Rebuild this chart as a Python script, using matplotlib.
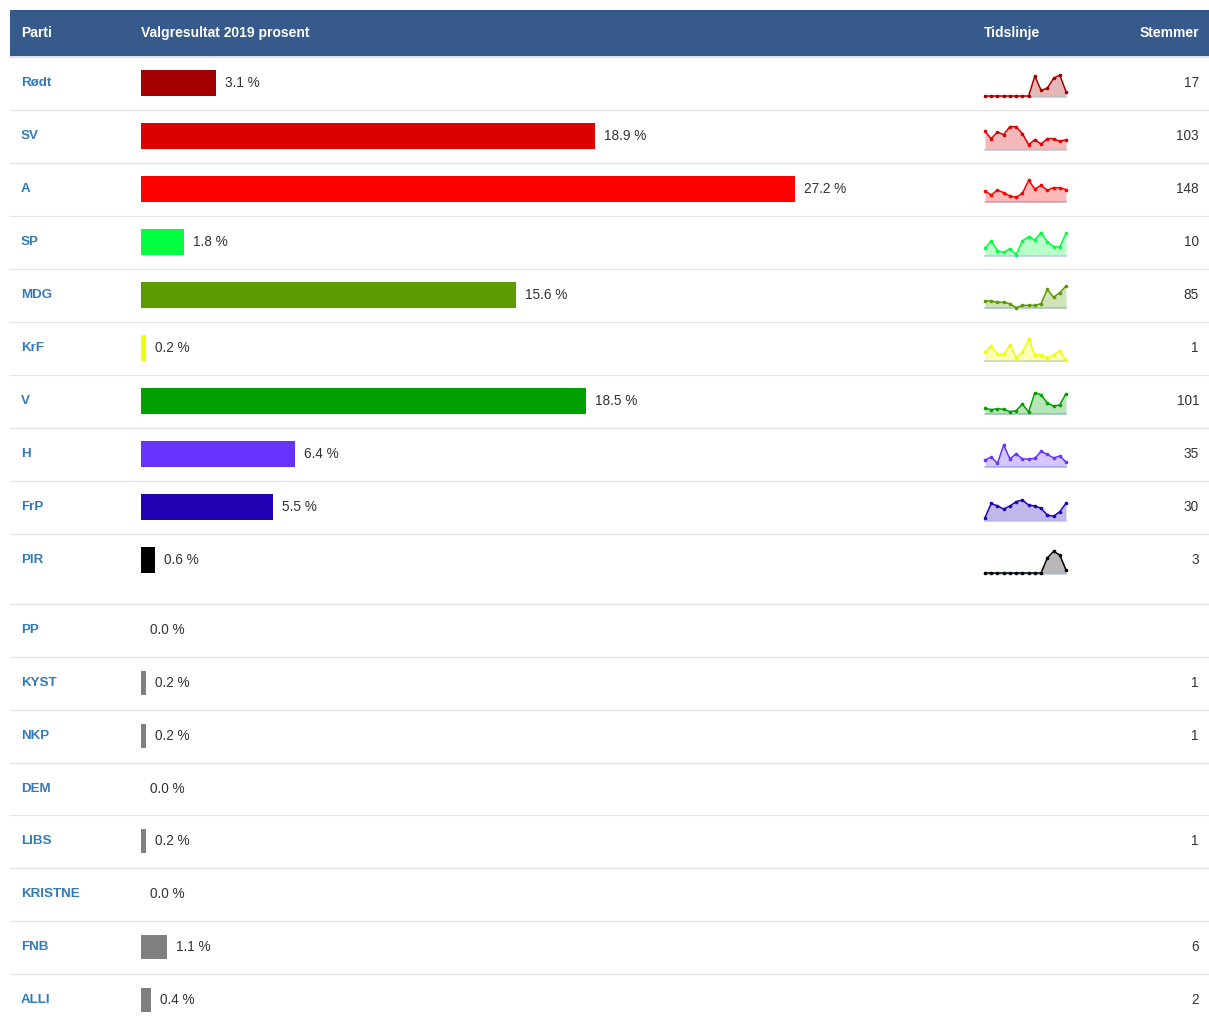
import matplotlib.pyplot as plt
import numpy as np

plt.rcParams['font.family'] = ['Liberation Sans', 'DejaVu Sans']

# table data
parties = ['Rødt', 'SV', 'A', 'SP', 'MDG', 'KrF', 'V', 'H', 'FrP', 'PIR',
           'PP', 'KYST', 'NKP', 'DEM', 'LIBS', 'KRISTNE', 'FNB', 'ALLI']
percent = [3.1, 18.9, 27.2, 1.8, 15.6, 0.2, 18.5, 6.4, 5.5, 0.6,
           0.0, 0.2, 0.2, 0.0, 0.2, 0.0, 1.1, 0.4]
votes = [17, 103, 148, 10, 85, 1, 101, 35, 30, 3,
         None, 1, 1, None, 1, None, 6, 2]
colors = ['#a50000', '#dd0000', '#ff0000', '#00ff40', '#5b9a00', '#eeff00',
          '#00a000', '#6633ff', '#2200b4', '#000000'] + ['#808080'] * 8

# timeline (sparkline) values
spark_rodt = [0, 0, 0, 0, 0, 0, 0, 0, 60, 17, 23, 53, 63, 13]
spark_sv = [53, 31, 51, 43, 67, 67, 46, 13, 28, 15, 31, 31, 23, 28]
spark_a = [33, 21, 36, 28, 18, 14, 26, 65, 39, 50, 35, 43, 43, 37]
spark_sp = [20, 42, 13, 8, 19, 1, 42, 55, 45, 67, 40, 25, 24, 65]
spark_mdg = [21, 21, 17, 17, 13, 1, 8, 8, 8, 13, 56, 32, 46, 66]
spark_krf = [28, 45, 20, 20, 48, 10, 26, 66, 18, 18, 10, 18, 31, 2]
spark_v = [17, 13, 16, 14, 7, 10, 30, 6, 64, 58, 33, 24, 27, 61]
spark_h = [21, 30, 11, 66, 24, 40, 24, 24, 26, 47, 38, 27, 33, 15]
spark_frp = [7, 50, 42, 33, 42, 55, 60, 45, 42, 35, 15, 11, 25, 50]
spark_pir = [0, 0, 0, 0, 0, 0, 0, 0, 0, 0, 45, 65, 54, 9]
sparks = [spark_rodt, spark_sv, spark_a, spark_sp, spark_mdg, spark_krf,
          spark_v, spark_h, spark_frp, spark_pir]

W, H = 1209, 1021
fig = plt.figure(figsize=(W / 100, H / 100), dpi=100)
ax = fig.add_axes([0, 0, 1, 1])
ax.set_xlim(0, W)
ax.set_ylim(H, 0)
ax.axis('off')

# header band
header_col = '#375a8c'
ax.add_patch(plt.Rectangle((10, 10), W - 10, 46, color=header_col, lw=0))
hkw = dict(color='white', fontsize=10, fontweight='bold', va='center')
ax.text(21, 33, 'Parti', **hkw)
ax.text(141, 33, 'Valgresultat 2019 prosent', **hkw)
ax.text(984, 33, 'Tidslinje', **hkw)
ax.text(1199, 33, 'Stemmer', ha='right', **hkw)
ax.plot([10, W], [57, 57], color='#d5dbe5', lw=1.2)

# row geometry
row_h = [53] * 9 + [70] + [52.85] * 8
tops = 57 + np.concatenate([[0], np.cumsum(row_h)[:-1]])
text_y = tops + 26

for t in list(tops[1:]) + [tops[-1] + row_h[-1]]:
    if t < H:
        ax.plot([10, W], [t, t], color='#e3e3e8', lw=0.9)

for name, y, v in zip(parties, text_y, votes):
    ax.text(21, y, name, color='#337ab7', fontsize=9.6, fontweight='bold', va='center')
    if v is not None:
        ax.text(1199, y, str(v), color='#333333', fontsize=9.8, va='center', ha='right')

# bars, in percent units
px_per_pct = 24.04
bax = fig.add_axes([0, 0, 1, 1])
bax.set_xlim(-141 / px_per_pct, (W - 141) / px_per_pct)
bax.set_ylim(H, 0)
bax.axis('off')
heights = [26] * 10 + [24] * 8
bax.barh(text_y, percent, height=heights, color=colors, left=0)
for p, y in zip(percent, text_y):
    bax.text(p + 9 / px_per_pct, y, f'{p:.1f} %', color='#333333',
             fontsize=9.8, va='center')

# sparklines
x0, x1 = 985, 1066
for vals, y, c in zip(sparks, text_y, colors):
    base = y + 13
    sax = fig.add_axes([(x0 - 2) / W, 1 - (base + 2) / H, (x1 - x0 + 4) / W, 26 / H])
    n = len(vals)
    pad = 2 / ((x1 - x0) / (n - 1))
    sax.set_xlim(-pad, n - 1 + pad)
    sax.set_ylim(-6, 72)
    sax.axis('off')
    xs = np.arange(n)
    sax.plot([0, n - 1], [-1.5, -1.5], color='#c9d6ec', lw=1.5, zorder=1)
    sax.fill_between(xs, 0, vals, color=c, alpha=0.28, lw=0, zorder=2)
    sax.plot(xs, vals, color=c, lw=1.1, marker='o', ms=1.6, zorder=3)

fig.savefig('out.png', dpi=100)
